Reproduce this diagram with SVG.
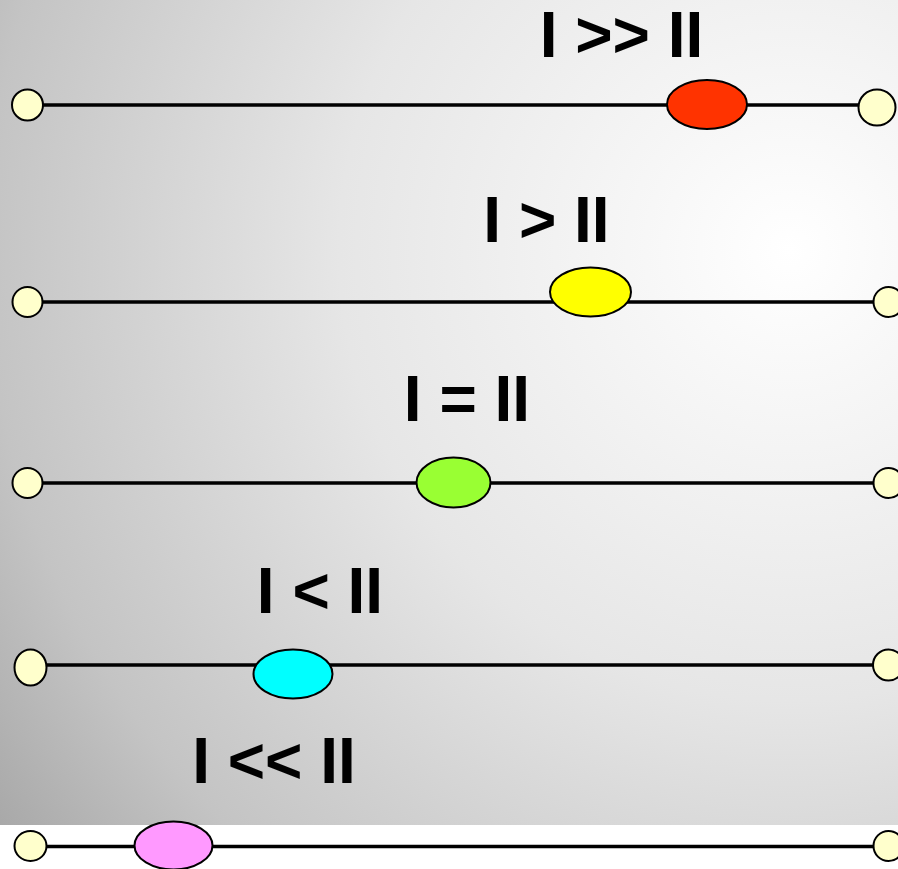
<svg xmlns="http://www.w3.org/2000/svg" width="898" height="869" viewBox="0 0 898 869">
  <defs>
    <radialGradient id="bg" gradientUnits="userSpaceOnUse" cx="790" cy="250" r="980">
      <stop offset="0" stop-color="#ffffff"/>
      <stop offset="0.46" stop-color="#e6e6e6"/>
      <stop offset="0.82" stop-color="#c4c4c4"/>
      <stop offset="1" stop-color="#a8a8a8"/>
    </radialGradient>
    <style>
      .ln { stroke: #000; stroke-width: 3.5; fill: none; }
      .end { fill: #ffffcc; stroke: #000; stroke-width: 2; }
      .bead { stroke: #000; stroke-width: 2; }
      .lbl { font-family: "Liberation Sans", Arial, sans-serif; font-weight: bold; font-size: 64px; fill: #000; text-anchor: middle; }
    </style>
  </defs>
  <rect x="0" y="0" width="898" height="869" fill="#ffffff"/>
  <rect x="0" y="0" width="898" height="825" fill="url(#bg)"/>

  <g id="connectors">
    <line class="ln" x1="27" y1="105" x2="877" y2="105"/>
    <line class="ln" x1="27" y1="302" x2="888" y2="302"/>
    <line class="ln" x1="27" y1="483" x2="888" y2="483"/>
    <line class="ln" x1="31" y1="665" x2="888" y2="665"/>
    <line class="ln" x1="31" y1="846.5" x2="888" y2="846.5"/>
  </g>

  <g id="row1">
    <text class="lbl" x="621.5" y="57">I &gt;&gt; II</text>
    <circle class="end" cx="27.5" cy="105" r="15.5"/>
    <ellipse class="bead" cx="707" cy="104.5" rx="40" ry="24.5" fill="#ff3300"/>
    <ellipse class="end" cx="877" cy="107.5" rx="18.5" ry="18"/>
  </g>

  <g id="row2">
    <text class="lbl" x="546.5" y="242">I &gt; II</text>
    <circle class="end" cx="27.5" cy="302" r="15"/>
    <ellipse class="bead" cx="590.5" cy="292" rx="40.5" ry="24.5" fill="#ffff00"/>
    <circle class="end" cx="888.5" cy="302" r="15"/>
  </g>

  <g id="row3">
    <text class="lbl" x="467" y="421">I = II</text>
    <circle class="end" cx="27.5" cy="483" r="15"/>
    <ellipse class="bead" cx="453.5" cy="482.5" rx="37" ry="25" fill="#99ff33"/>
    <circle class="end" cx="888.5" cy="483" r="15"/>
  </g>

  <g id="row4">
    <text class="lbl" x="320" y="613">I &lt; II</text>
    <ellipse class="end" cx="30.5" cy="667.5" rx="16" ry="18"/>
    <ellipse class="bead" cx="293" cy="674" rx="39.5" ry="24.5" fill="#00ffff"/>
    <circle class="end" cx="888.5" cy="665" r="15.5"/>
  </g>

  <g id="row5">
    <text class="lbl" x="274" y="783">I &lt;&lt; II</text>
    <ellipse class="end" cx="30.5" cy="846" rx="16" ry="15"/>
    <ellipse class="bead" cx="173.5" cy="845.5" rx="39" ry="24" fill="#ff99ff"/>
    <circle class="end" cx="888.5" cy="846" r="15"/>
  </g>
</svg>
